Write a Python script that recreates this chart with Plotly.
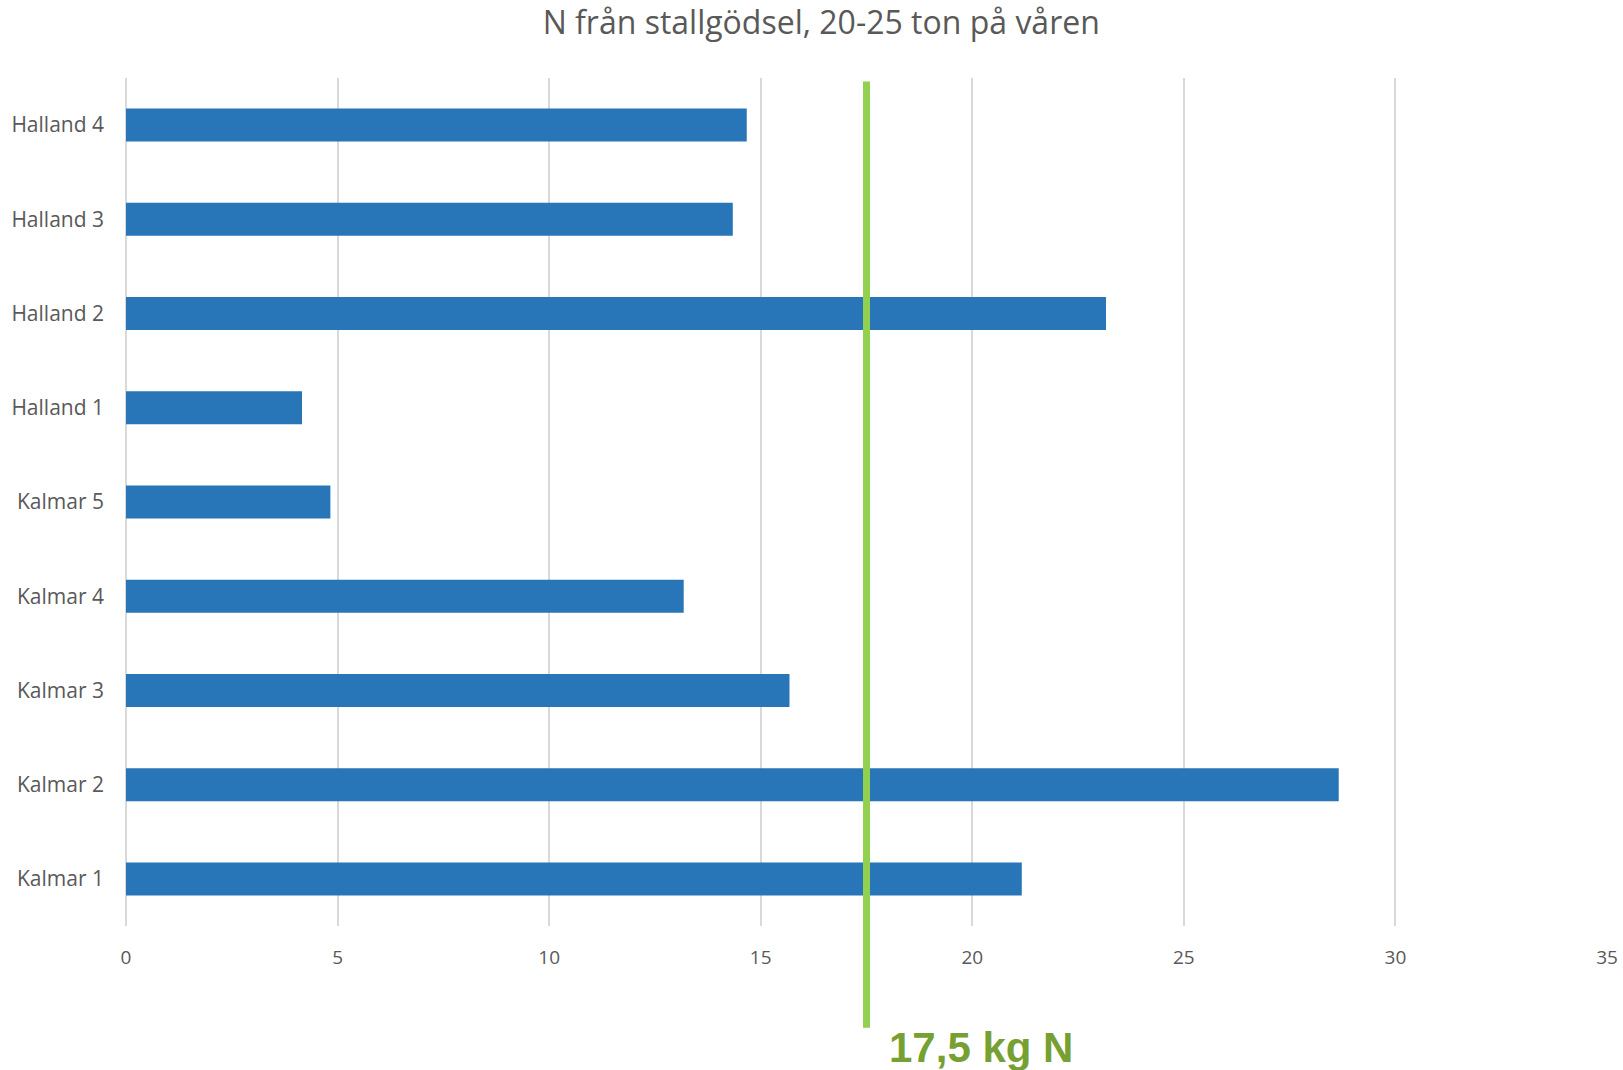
import plotly.graph_objects as go

# Nitrogen from farmyard manure per site (kg N)
sites = ["Kalmar 1", "Kalmar 2", "Kalmar 3", "Kalmar 4", "Kalmar 5",
         "Halland 1", "Halland 2", "Halland 3", "Halland 4"]
n_values = [21.17, 28.66, 15.68, 13.18, 4.83, 4.16, 23.16, 14.34, 14.67]
x_ticks = [0, 5, 10, 15, 20, 25, 30, 35]

reference_value = 17.5
reference_label = "17,5 kg N"
title_text = "N från stallgödsel, 20-25 ton på våren"

fig = go.Figure()
fig.add_trace(go.Bar(
    x=n_values,
    y=sites,
    orientation="h",
    marker=dict(color="#2876B8", line=dict(width=0)),
    width=0.35,
    hoverinfo="x+y",
))

# Reference line extending below the axis
fig.add_shape(
    type="line",
    xref="x", yref="paper",
    x0=reference_value, x1=reference_value,
    y0=-0.12, y1=0.996,
    line=dict(color="#92D050", width=7),
    layer="above",
)
fig.add_annotation(
    x=reference_value, xref="x",
    y=-0.143, yref="paper",
    text="<b>" + reference_label + "</b>",
    showarrow=False,
    xanchor="left", yanchor="middle",
    xshift=20,
    font=dict(family="Liberation Sans, Arial", size=42, color="#77A033"),
)

fig.update_layout(
    width=1623, height=1070,
    margin=dict(l=126, r=16, t=78, b=144),
    paper_bgcolor="white",
    plot_bgcolor="white",
    showlegend=False,
    bargap=0.65,
    title=dict(
        text=title_text,
        x=0.506, xanchor="center",
        y=0.979, yanchor="middle",
        font=dict(family="Open Sans", size=32, color="#595959"),
    ),
    font=dict(family="Open Sans", color="#595959"),
)
fig.update_xaxes(
    range=[0, 35],
    tickvals=x_ticks,
    automargin=False,
    ticklabeloverflow="allow",
    showgrid=True,
    gridcolor="#D9D9D9",
    gridwidth=1.5,
    zeroline=True,
    zerolinecolor="#D9D9D9",
    zerolinewidth=1.5,
    showline=False,
    ticks="",
    ticklabelstandoff=18,
    tickfont=dict(family="Open Sans", size=19, color="#595959"),
)
fig.update_yaxes(
    categoryorder="array",
    categoryarray=sites,
    range=[-0.5, 8.5],
    automargin=False,
    showgrid=False,
    zeroline=False,
    showline=False,
    ticks="",
    ticklabelstandoff=21,
    tickfont=dict(family="Open Sans", size=21, color="#595959"),
)

fig.write_html("out.html")
